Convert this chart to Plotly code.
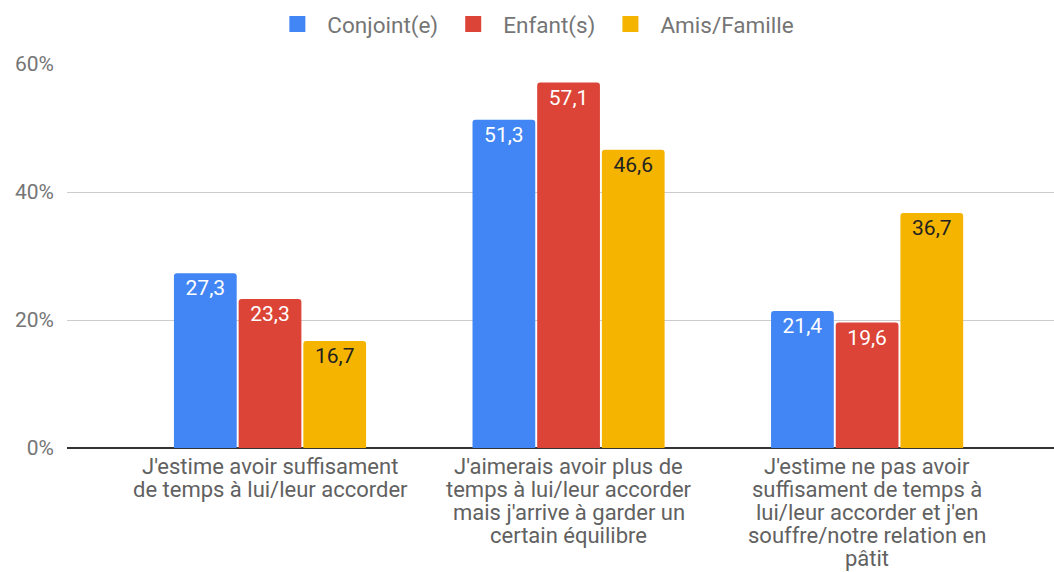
import plotly.graph_objects as go

categories = [
    "J'estime avoir suffisament<br>de temps à lui/leur accorder",
    "J'aimerais avoir plus de<br>temps à lui/leur accorder<br>mais j'arrive à garder un<br>certain équilibre",
    "J'estime ne pas avoir<br>suffisament de temps à<br>lui/leur accorder et j'en<br>souffre/notre relation en<br>pâtit",
]
conjoint = [27.3, 51.3, 21.4]
enfants = [23.3, 57.1, 19.6]
amis = [16.7, 46.6, 36.7]
series_names = ["Conjoint(e)", "Enfant(s)", "Amis/Famille"]
colors = ["#4285F4", "#DB4437", "#F4B400"]
text_colors = ["#ffffff", "#ffffff", "#222222"]
yticks = [0, 20, 40, 60]
ytick_labels = [f"{v}%" for v in yticks]

x_idx = list(range(len(categories)))
fig = go.Figure()
for name, vals, col, tcol in zip(series_names, [conjoint, enfants, amis], colors, text_colors):
    fig.add_trace(go.Bar(
        x=x_idx, y=vals, name=name, showlegend=False,
        marker=dict(color=col, cornerradius=3, line=dict(width=0)),
        texttemplate="%{y:.1f}", textposition="inside", insidetextanchor="end",
        insidetextfont=dict(family="Roboto", size=21, color=tcol),
        textangle=0,
    ))
# legend-only entries with larger square swatches
for name, col in zip(series_names, colors):
    fig.add_trace(go.Scatter(
        x=[None], y=[None], name=name, mode="markers",
        marker=dict(symbol="square", size=16, color=col),
    ))

# category labels, one annotation per line for tight line spacing
line_h = 23
for i, cat in enumerate(categories):
    for j, line in enumerate(cat.split("<br>")):
        fig.add_annotation(
            x=i, xref="x", y=0, yref="paper", yanchor="middle",
            yshift=-(18 + j * line_h), text=line, showarrow=False, borderpad=0,
            font=dict(family="Roboto", size=22, color="#616161"),
        )

fig.update_layout(
    width=1054, height=572,
    paper_bgcolor="white", plot_bgcolor="white",
    margin=dict(l=67, r=0, t=64, b=124, autoexpand=False),
    barmode="group", bargap=0.35, bargroupgap=0.03,
    separators=", ",
    font=dict(family="Roboto", color="#757575"),
    legend=dict(orientation="h", x=0.203, xanchor="left", yref="container", y=0.995, yanchor="top",
                font=dict(family="Roboto", size=22.5, color="#757575"), traceorder="normal",
                itemsizing="trace", itemwidth=50),
    xaxis=dict(range=[-0.68, 2.626], tickvals=x_idx, showticklabels=False, automargin=False,
               showgrid=False, zeroline=False, showline=False, ticks="", fixedrange=True),
    yaxis=dict(range=[0, 60], tickvals=yticks, ticktext=ytick_labels, automargin=False,
               tickfont=dict(family="Roboto", size=21, color="#757575"),
               showgrid=True, gridcolor="#cccccc", gridwidth=1,
               zeroline=True, zerolinecolor="#333333", zerolinewidth=1.5,
               showline=False, ticks="", ticklabelstandoff=12),
)
fig.write_html("out.html", config={"displayModeBar": False},
               post_script="document.body.style.margin='0';document.body.style.overflow='hidden';")
